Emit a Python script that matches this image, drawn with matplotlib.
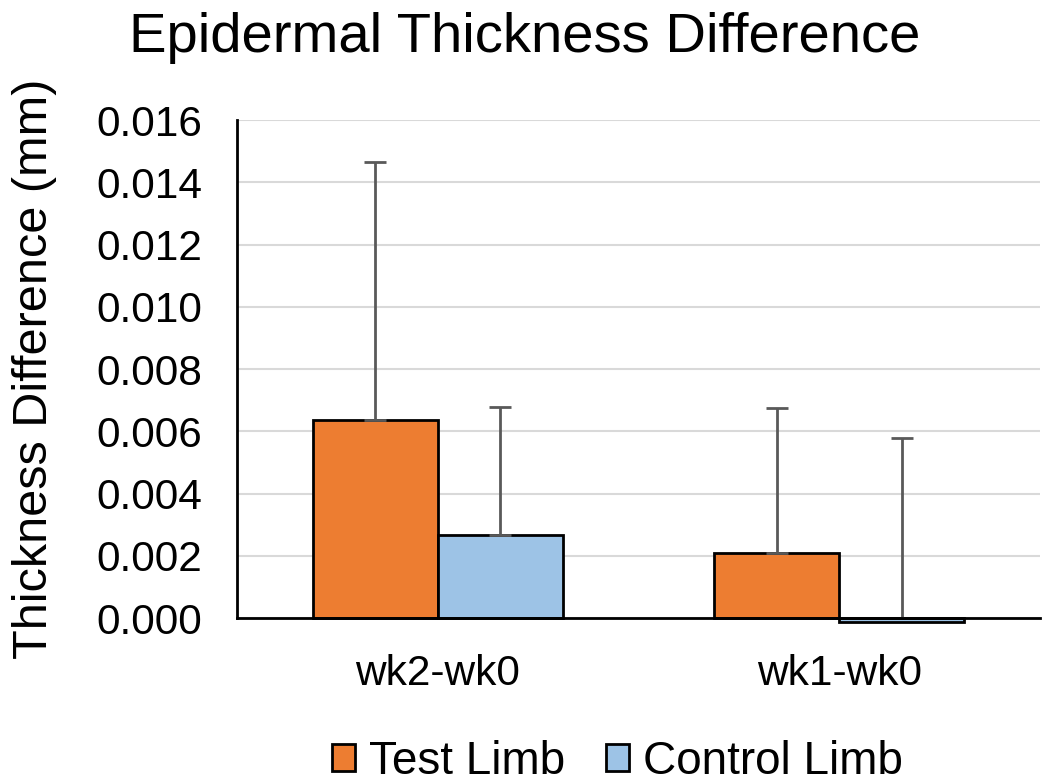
import matplotlib.pyplot as plt
import numpy as np

plt.rcParams['font.family'] = ['Liberation Sans', 'DejaVu Sans']

# data
categories = ["wk2-wk0", "wk1-wk0"]
test_limb = [0.00636, 0.00209]
control_limb = [0.00267, -0.00012]
test_err = [0.0083, 0.00466]
control_err = [0.0041, 0.0059]

fig = plt.figure(figsize=(10.5, 7.82), dpi=100)
ax = fig.add_axes([0.2257, 0.2097, 0.7648, 0.6368])

x = np.arange(len(categories))
w = 0.311

ax.bar(x - w/2, test_limb, w, color='#ED7D31', edgecolor='black', linewidth=2,
       label='Test Limb', clip_on=False, zorder=3)
ax.bar(x + w/2, control_limb, w, color='#9DC3E6', edgecolor='black', linewidth=2,
       label='Control Limb', clip_on=False, zorder=3)

ekw = dict(fmt='none', ecolor='#595959', elinewidth=2, capsize=8, capthick=2, zorder=4)
ax.errorbar(x - w/2, test_limb, yerr=[np.zeros(2), test_err], **ekw)
ax.errorbar(x + w/2, control_limb, yerr=[np.zeros(2), control_err], **ekw)

ax.set_xlim(-0.5, 1.5)
ax.set_ylim(0, 0.016)
yt = np.arange(0, 0.0161, 0.002)
ax.set_yticks(yt)
ax.set_yticklabels([f"{v:.3f}" for v in yt], fontsize=30.5)
ax.set_xticks(x)
ax.set_xticklabels(categories, fontsize=30.5)
ax.tick_params(axis='y', length=0, pad=25)
ax.tick_params(axis='x', length=0, pad=26)

ax.yaxis.grid(True, color='#d9d9d9', linewidth=1.5, zorder=0)
ax.set_axisbelow(True)
for s in ['top', 'right']:
    ax.spines[s].set_visible(False)
ax.spines['left'].set_linewidth(2)
ax.spines['bottom'].set_linewidth(2)
ax.spines['bottom'].set_zorder(5)

ax.set_ylabel("Thickness Difference (mm)", fontsize=35, labelpad=28)
fig.suptitle("Epidermal Thickness Difference", fontsize=40.5, y=0.985)

fig.legend(loc='lower center', bbox_to_anchor=(0.588, -0.055), ncol=2, frameon=False,
           fontsize=33, handlelength=0.5, handleheight=0.5, handletextpad=0.3,
           columnspacing=0.9)

fig.savefig("out.png", dpi=100)
